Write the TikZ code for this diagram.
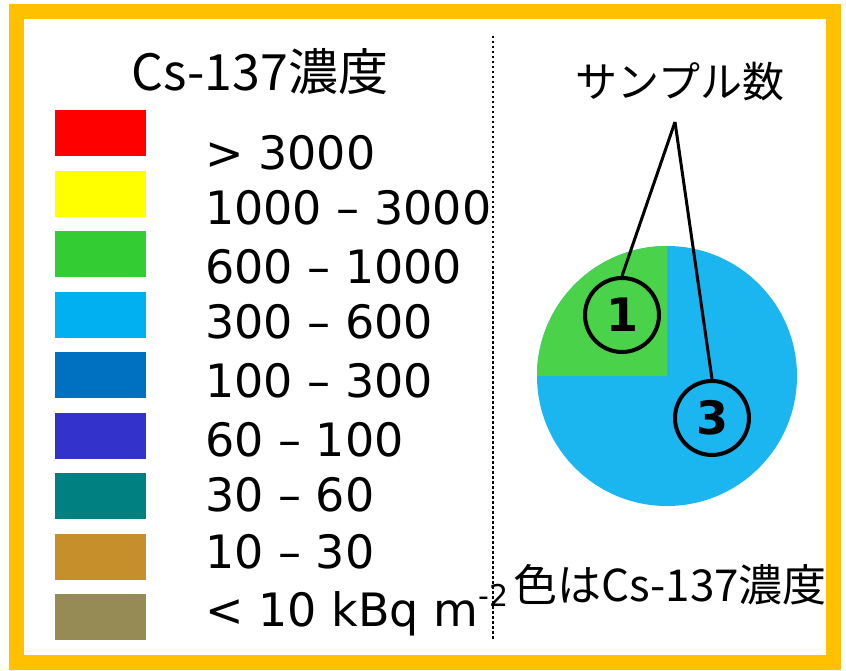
\documentclass[tikz,border=0pt]{standalone}
\usepackage{fontspec}
\setmainfont{DejaVu Sans}
\newfontfamily\jpfont{Noto Sans CJK JP}
\definecolor{frameorange}{HTML}{FFC000}
\definecolor{swred}{HTML}{FF0000}
\definecolor{swyellow}{HTML}{FFFF00}
\definecolor{swgreen}{HTML}{33CC33}
\definecolor{swcyan}{HTML}{00B0F0}
\definecolor{swblue}{HTML}{0070C0}
\definecolor{swpurple}{HTML}{3333CC}
\definecolor{swteal}{HTML}{008080}
\definecolor{swbrown}{HTML}{C68F2C}
\definecolor{swolive}{HTML}{978B55}
\definecolor{piegreen}{HTML}{4AD24A}
\definecolor{pieblue}{HTML}{1BB6F0}
\tikzset{
  swatch/.style={rectangle, minimum width=91pt, minimum height=46pt, inner sep=0pt, anchor=north west},
  lab/.style={anchor=west, inner sep=0pt, font=\fontsize{46}{50}\selectfont},
  numcircle/.style={circle, draw=black, line width=4pt, minimum size=74pt, inner sep=0pt, font=\bfseries\fontsize{46}{50}\selectfont},
  leader/.style={draw=black, line width=3pt},
}
\begin{document}
\begin{tikzpicture}[x=1pt,y=-1pt]
\useasboundingbox (0,0) rectangle (846,671);
\fill[white] (0,0) rectangle (846,671);
\draw[frameorange, line width=15pt] (16.5,11.5) rectangle (833.5,662.5);
% dotted separator
\coordinate (septop) at (493,36);
\coordinate (sepbot) at (493,640);
\draw[black, line width=2.5pt, dash pattern=on 2.5pt off 2.5pt] (septop) -- (sepbot);
% title
\node[inner sep=0pt, font=\jpfont\fontsize{50}{54}\selectfont] (title) at (260,72) {Cs-137濃度};
% swatches
\node[swatch, fill=swred]    (s1) at (55,110) {};
\node[swatch, fill=swyellow] (s2) at (55,171) {};
\node[swatch, fill=swgreen]  (s3) at (55,231) {};
\node[swatch, fill=swcyan]   (s4) at (55,292) {};
\node[swatch, fill=swblue]   (s5) at (55,352) {};
\node[swatch, fill=swpurple] (s6) at (55,413) {};
\node[swatch, fill=swteal]   (s7) at (55,473) {};
\node[swatch, fill=swbrown]  (s8) at (55,534) {};
\node[swatch, fill=swolive]  (s9) at (55,594) {};
% labels
\node[lab] (l1) at (205,153) {> 3000};
\node[lab] (l2) at (205,208) {1000 – 3000};
\node[lab] (l3) at (205,267) {600 – 1000};
\node[lab] (l4) at (205,322) {300 – 600};
\node[lab] (l5) at (205,381) {100 – 300};
\node[lab] (l6) at (205,440) {60 – 100};
\node[lab] (l7) at (205,495) {30 – 60};
\node[lab] (l8) at (205,552) {10 – 30};
\node[lab] (l9) at (205,610) {< 10 kBq m\raisebox{0.42em}{\fontsize{30}{32}\selectfont -2}};
% right panel
\node[inner sep=0pt, font=\jpfont\fontsize{42}{46}\selectfont] (samples) at (680,82) {サンプル数};
\fill[pieblue] (667,376) circle (130);
\fill[piegreen] (667,376) -- (537,376) arc[start angle=180, end angle=270, radius=130] -- cycle;
\node[numcircle] (c1) at (622,315) {1};
\node[numcircle] (c3) at (712,418) {3};
\coordinate (apex) at (675,122);
\draw[leader] (apex) -- (c1.north);
\draw[leader] (apex) -- (c3.north);
\node[inner sep=0pt, font=\jpfont\fontsize{44}{48}\selectfont] (caption) at (670,585) {色はCs-137濃度};
\end{tikzpicture}
\end{document}
